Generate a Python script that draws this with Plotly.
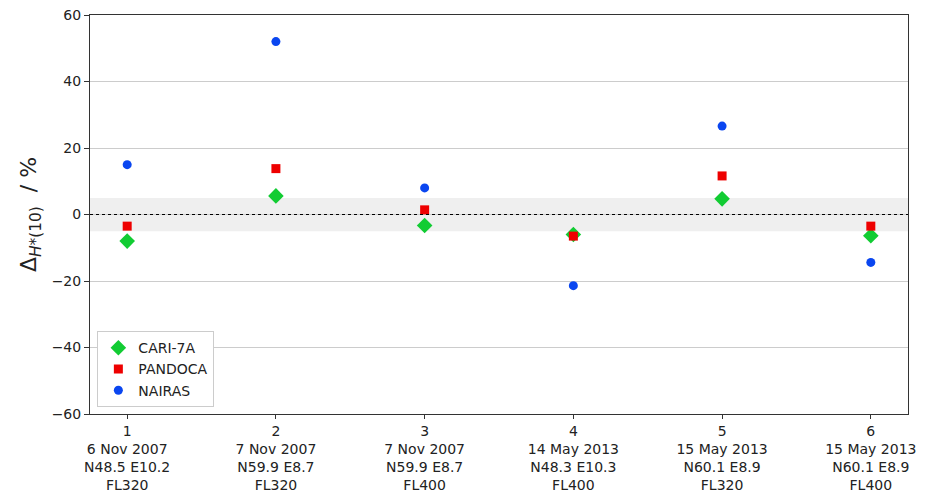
import plotly.graph_objects as go

flights = [1, 2, 3, 4, 5, 6]
tick_labels = [
    "1<br>6 Nov 2007<br>N48.5 E10.2<br>FL320",
    "2<br>7 Nov 2007<br>N59.9 E8.7<br>FL320",
    "3<br>7 Nov 2007<br>N59.9 E8.7<br>FL400",
    "4<br>14 May 2013<br>N48.3 E10.3<br>FL400",
    "5<br>15 May 2013<br>N60.1 E8.9<br>FL320",
    "6<br>15 May 2013<br>N60.1 E8.9<br>FL400",
]
cari = [-8.0, 5.6, -3.3, -6.0, 4.7, -6.4]
pandoca = [-3.5, 13.8, 1.4, -6.5, 11.6, -3.5]
nairas = [15.0, 52.0, 8.0, -21.4, 26.6, -14.4]
band = [-5, 5]

fig = go.Figure()
fig.add_hrect(y0=band[0], y1=band[1], fillcolor="#efefef", line_width=0, layer="below")
fig.add_hline(y=0, line=dict(color="black", width=1, dash="dot"))

fig.add_trace(go.Scatter(x=flights, y=cari, mode="markers", name="CARI-7A",
                         marker=dict(symbol="diamond", size=12, color="#12cc33")))
fig.add_trace(go.Scatter(x=flights, y=pandoca, mode="markers", name="PANDOCA",
                         marker=dict(symbol="square", size=9, color="#ee0000")))
fig.add_trace(go.Scatter(x=flights, y=nairas, mode="markers", name="NAIRAS",
                         marker=dict(symbol="circle", size=9, color="#0a46f0")))

fig.update_layout(
    width=919, height=487,
    margin=dict(l=82, r=19, t=7, b=81, autoexpand=False),
    plot_bgcolor="white", paper_bgcolor="white",
    font=dict(family="DejaVu Sans", size=14, color="#222"),
    showlegend=True,
    legend=dict(x=0.009, y=0.017, xanchor="left", yanchor="bottom",
                bgcolor="white", bordercolor="#cccccc", borderwidth=1,
                font=dict(size=14), tracegroupgap=0),
)
fig.update_xaxes(range=[0.75, 6.25], tickmode="array", tickvals=flights, ticktext=tick_labels,
                 showgrid=False, zeroline=False, showline=True, linecolor="#333", linewidth=1,
                 mirror=True, ticks="outside", ticklen=4, tickcolor="#333",
                 tickfont=dict(size=14), automargin=False)
fig.update_yaxes(range=[-60, 60], tickvals=[-60, -40, -20, 0, 20, 40, 60],
                 showgrid=True, gridcolor="#cccccc", gridwidth=1, zeroline=False,
                 showline=True, linecolor="#333", linewidth=1, mirror=True,
                 ticks="outside", ticklen=5, tickcolor="#333", tickfont=dict(size=14),
                 automargin=False, ticklabeloverflow="allow",
                 title=dict(text="Δ<sub><i>H</i>*(10)</sub>  / %", font=dict(size=22), standoff=8))

fig.write_html("out.html")
